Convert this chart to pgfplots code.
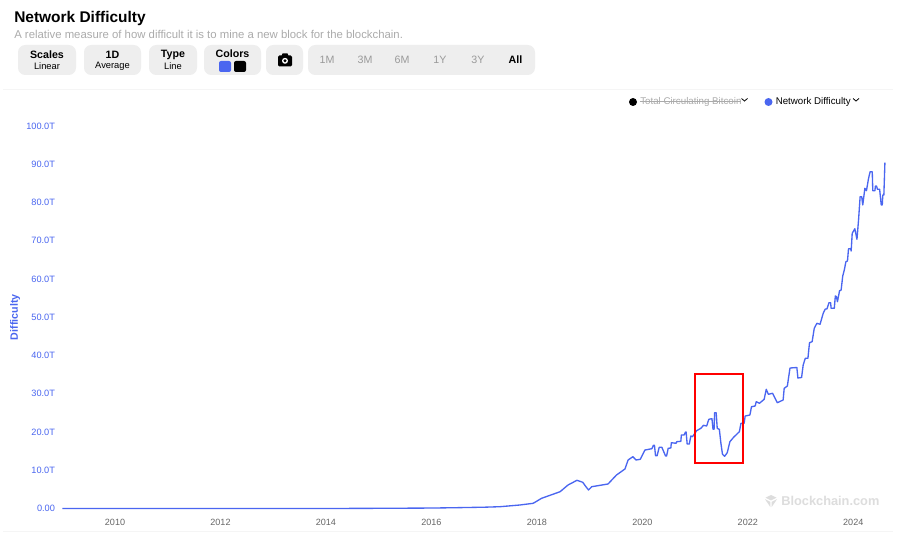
\documentclass[border=0pt]{standalone}
\usepackage{pgfplots}
\pgfplotsset{compat=1.18}
\usepackage{fontspec}
\setmainfont{Liberation Sans}
\definecolor{lineblue}{HTML}{4A66F0}
\definecolor{panel}{HTML}{EEEEEE}
\definecolor{subgrey}{HTML}{ABABAB}
\definecolor{rangegrey}{HTML}{9A9A9A}
\definecolor{ticksgrey}{HTML}{666666}
\definecolor{markgrey}{HTML}{DDDDDD}
\definecolor{sepgrey}{HTML}{F5F5F5}
\newcommand{\fs}[1]{\fontsize{#1}{#1}\selectfont}
\pgfplotstableread{
year diff
2009.00 0
2012.00 0.001
2014.00 0.002
2015.00 0.05
2016.00 0.12
2016.50 0.22
2017.00 0.34
2017.30 0.47
2017.68 0.92
2017.93 1.36
2018.09 2.67
2018.44 4.39
2018.59 6.14
2018.76 7.37
2018.87 6.85
2018.93 5.70
2018.98 4.84
2019.04 5.70
2019.35 6.41
2019.42 7.45
2019.51 8.76
2019.67 10.33
2019.73 12.68
2019.82 13.54
2019.88 12.68
2019.96 12.86
2020.05 15.29
2020.18 15.63
2020.21 16.52
2020.23 16.52
2020.25 13.80
2020.28 13.80
2020.32 16.00
2020.37 16.00
2020.44 13.73
2020.46 13.73
2020.49 15.74
2020.54 15.82
2020.55 17.20
2020.64 17.05
2020.65 17.46
2020.73 17.57
2020.74 19.22
2020.79 19.22
2020.82 20.00
2020.83 20.00
2020.85 16.86
2020.89 16.86
2020.92 18.95
2020.95 18.77
2021.03 20.34
2021.11 20.97
2021.16 21.75
2021.22 21.57
2021.26 23.32
2021.32 23.48
2021.34 20.71
2021.36 20.71
2021.37 25.05
2021.40 25.05
2021.42 20.97
2021.46 20.71
2021.49 17.05
2021.52 14.17
2021.56 13.65
2021.61 14.59
2021.66 17.46
2021.73 18.61
2021.84 20.08
2021.87 22.27
2021.93 22.27
2021.95 24.18
2022.04 24.44
2022.07 26.61
2022.14 26.80
2022.16 27.92
2022.22 27.50
2022.31 28.55
2022.35 31.16
2022.39 29.86
2022.47 30.12
2022.56 27.66
2022.67 28.37
2022.69 31.42
2022.75 32.03
2022.80 36.73
2022.93 36.86
2022.95 34.12
2023.02 34.25
2023.05 37.52
2023.09 39.27
2023.14 39.27
2023.17 43.35
2023.22 43.61
2023.26 47.11
2023.31 48.42
2023.37 48.16
2023.43 51.03
2023.47 52.16
2023.50 52.16
2023.54 53.80
2023.57 53.80
2023.58 52.34
2023.64 52.34
2023.66 55.56
2023.68 55.40
2023.70 54.07
2023.74 56.94
2023.77 57.12
2023.80 60.78
2023.83 62.35
2023.86 64.52
2023.89 64.71
2023.91 67.92
2023.95 67.92
2023.96 67.32
2023.98 71.95
2024.03 73.15
2024.07 70.38
2024.10 75.42
2024.13 81.52
2024.16 81.52
2024.18 79.35
2024.22 83.71
2024.25 83.08
2024.29 86.33
2024.32 88.05
2024.36 88.05
2024.37 83.08
2024.41 83.08
2024.42 84.31
2024.44 84.31
2024.46 83.45
2024.50 83.45
2024.53 79.35
2024.55 79.35
2024.56 81.96
2024.58 81.96
2024.60 90.40
}\difficulty
\begin{document}
\begin{tikzpicture}[x=0.75pt,y=-0.75pt]
\path[use as bounding box,fill=white] (0,0) rectangle (919,541);
% header
\node[anchor=west,inner sep=0,font=\bfseries\fs{11.6}] at (14,18.5) {Network Difficulty};
\node[anchor=west,inner sep=0,font=\fs{8.52},text=subgrey] at (14,34) {A relative measure of how difficult it is to mine a new block for the blockchain.};
% button panels
\foreach \a/\b in {18/76,84/141,149/197,204/261,266/303,308/535}
  \fill[panel,rounded corners=5.5pt] (\a,45) rectangle (\b,75);
\foreach \cx/\top/\bot in {47/Scales/Linear,112.5/1D/Average,173/Type/Line}{
  \node[inner sep=0,font=\bfseries\fs{8}] at (\cx,54.5) {\top};
  \node[inner sep=0,font=\fs{7}] at (\cx,66.5) {\bot};
}
\node[inner sep=0,font=\bfseries\fs{8}] at (232.5,53.5) {Colors};
\fill[lineblue,rounded corners=1.5pt] (219,61) rectangle (231,72);
\fill[black,rounded corners=1.5pt] (234,61) rectangle (246,72);
% camera
\fill[black,rounded corners=1pt] (278,55.5) rectangle (292,66.5);
\fill[black] (281.5,56) -- (282.5,53.5) -- (287.5,53.5) -- (288.5,56) -- cycle;
\fill[white] (285,60.8) circle[radius=3];
\fill[black] (285,60.8) circle[radius=1.6];
\foreach \cx/\lab in {327/1M,365/3M,402/6M,440/1Y,478/3Y}
  \node[inner sep=0,font=\fs{8},text=rangegrey] at (\cx,60) {\lab};
\node[inner sep=0,font=\bfseries\fs{8}] at (515.5,60) {All};
% separators
\draw[sepgrey,line width=0.75pt] (3,90) -- (893,90);
\draw[sepgrey,line width=0.75pt] (3,531) -- (893,531);
% legend
\fill[black] (633,102) circle[radius=4];
\node[anchor=west,inner sep=0,font=\fs{7.3},text=subgrey] (tc) at (640,101.5) {Total Circulating Bitcoin};
\draw[subgrey,line width=0.5pt] (640,101.5) -- (741,101.5);
\draw[black,line width=0.6pt] (741.5,98.5) -- (744.5,101) -- (747.5,98.5);
\fill[lineblue] (768.5,102) circle[radius=4];
\node[anchor=west,inner sep=0,font=\fs{7.3}] at (775.5,101.5) {Network Difficulty};
\draw[black,line width=0.6pt] (853,98.5) -- (856,101) -- (859,98.5);
% watermark
\fill[markgrey] (771,495) -- (776.5,497.7) -- (771,500.4) -- (765.5,497.7) -- cycle;
\fill[markgrey] (765,499.2) -- (770.3,501.8) -- (770.3,507) -- cycle;
\fill[markgrey] (777,499.2) -- (771.7,501.8) -- (771.7,507) -- cycle;
\node[anchor=west,inner sep=0,font=\bfseries\fs{9.6},text=markgrey] at (781,501) {Blockchain.com};
\begin{axis}[
    at={(46.725pt,-381.375pt)}, anchor=south west,
    scale only axis,
    width=616.95pt, height=286.875pt,
    xmin=2009, xmax=2024.6,
    ymin=0, ymax=100,
    axis line style={draw=none},
    major tick length=0pt,
    xtick={2010,2012,2014,2016,2018,2020,2022,2024},
    xticklabels={2010,2012,2014,2016,2018,2020,2022,2024},
    ytick={0,10,20,30,40,50,60,70,80,90,100},
    yticklabels={0.00,10.0T,20.0T,30.0T,40.0T,50.0T,60.0T,70.0T,80.0T,90.0T,100.0T},
    xticklabel style={font=\fs{6.8},text=ticksgrey,yshift=-4.8pt},
    yticklabel style={font=\fs{6.9},text=lineblue,xshift=-2pt},
    ylabel={Difficulty},
    ylabel style={at={(axis description cs:-0.0575,0.5)},anchor=center,font=\bfseries\fs{8},text=lineblue},
    clip=false,
]
\addplot[lineblue,line width=1pt,line join=round] table[x=year,y=diff] {\difficulty};
\draw[red,line width=1.6pt] (axis cs:2021.00,35.16) rectangle (axis cs:2021.91,11.9);
\end{axis}
\end{tikzpicture}
\end{document}
